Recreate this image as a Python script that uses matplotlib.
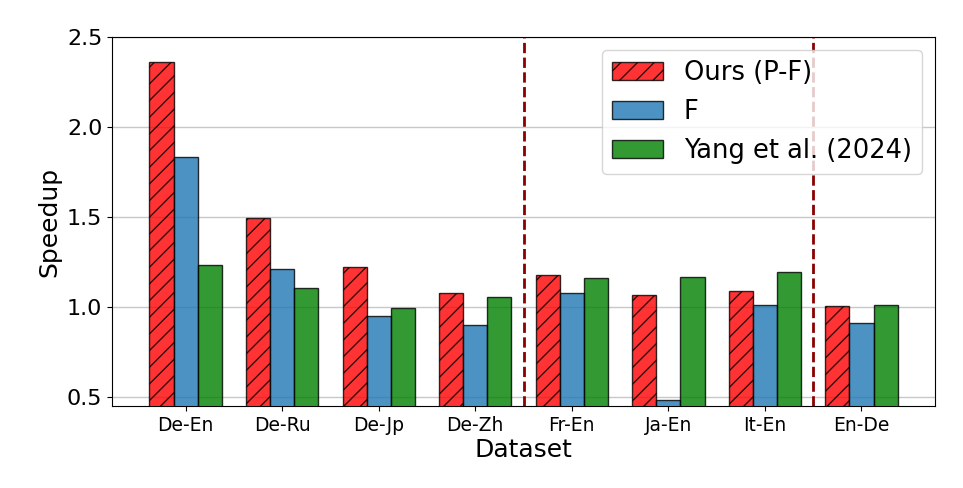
import numpy as np
import matplotlib.pyplot as plt

# 数据
datasets = ['De-En', 'De-Ru', 'De-Jp', 'De-Zh', 'Fr-En', 'Ja-En', 'It-En', 'En-De']
ours_pf = [2.363, 1.495, 1.221, 1.080, 1.180, 1.069, 1.091, 1.006]
f_only = [1.835, 1.211, 0.948, 0.900, 1.080, 0.481, 1.013, 0.911]
yang_2024 = [1.233, 1.106, 0.993, 1.058, 1.164, 1.165, 1.195, 1.011]
series_labels = ['Ours (P-F)', 'F', 'Yang et al. (2024)']

x = np.arange(len(datasets))
bar_width = 0.25

fig, ax = plt.subplots(figsize=(9.63, 4.88), dpi=100)
fig.subplots_adjust(left=0.1163, right=0.971, top=0.924, bottom=0.168)

ax.bar(x - bar_width, ours_pf, width=bar_width, color='red', alpha=0.8,
       edgecolor='black', hatch='//', label=series_labels[0], zorder=3)
ax.bar(x, f_only, width=bar_width, color='tab:blue', alpha=0.8,
       edgecolor='black', label=series_labels[1], zorder=3)
ax.bar(x + bar_width, yang_2024, width=bar_width, color='green', alpha=0.8,
       edgecolor='black', label=series_labels[2], zorder=3)

# 分隔线
for xv in [3.5, 6.5]:
    ax.axvline(xv, color='darkred', linestyle='--', linewidth=2, zorder=2)

ax.set_ylim(0.45, 2.5)
ax.set_yticks([0.5, 1.0, 1.5, 2.0, 2.5])
ax.yaxis.grid(True, color='#c8c8c8', linewidth=1, zorder=0)
ax.set_axisbelow(True)

ax.set_xticks(x)
ax.set_xticklabels(datasets, fontsize=13.5)
ax.tick_params(axis='y', labelsize=16)
ax.set_xlabel('Dataset', fontsize=18, labelpad=2)
ax.set_ylabel('Speedup', fontsize=18)

ax.legend(loc='upper right', fontsize=18.5, framealpha=0.8)

plt.savefig('out.png', dpi=100)
